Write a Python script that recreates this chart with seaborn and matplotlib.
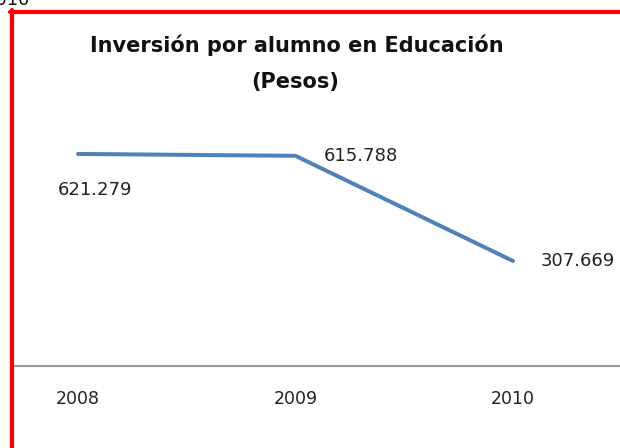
import pandas as pd
import matplotlib.pyplot as plt
import seaborn as sns
from matplotlib.lines import Line2D

# datos de la gráfica
anios = ["2008", "2009", "2010"]
inversion = [621.279, 615.788, 307.669]
etiquetas = ["621.279", "615.788", "307.669"]

df = pd.DataFrame({"anio": anios, "inversion": inversion})

sns.set_style("white")
plt.rcParams["font.family"] = ["DejaVu Sans"]

fig = plt.figure(figsize=(6.2, 4.48), dpi=100)
W, H = 620, 448
ax = fig.add_axes([12 / W, 82 / H, 608 / W, 356 / H])

sns.lineplot(data=df, x="anio", y="inversion", ax=ax, color="#4F81BD",
             linewidth=2.9, sort=False)

ax.set_xlim(-0.3034, 2.492)
ax.set_ylim(0, 1043)
ax.set_xticks(range(len(anios)))
ax.set_xticklabels(anios, fontsize=12.5, color="#222222")
ax.set_yticks([])
ax.set_xlabel("")
ax.set_ylabel("")
ax.tick_params(axis="x", length=0, pad=17)
for s in ["left", "right", "top"]:
    ax.spines[s].set_visible(False)
ax.spines["bottom"].set_color("#9a9a9a")
ax.spines["bottom"].set_linewidth(1.5)

# etiquetas de datos
offsets = [(12, -26), (47, 0), (47, 0)]
for i, (v, t) in enumerate(zip(inversion, etiquetas)):
    ax.annotate(t, (i, v), xytext=offsets[i], textcoords="offset points",
                ha="center", va="center", fontsize=13, color="#222222")

# título
fig.text(297 / W, 1 - 45 / H, "Inversión por alumno en Educación",
         ha="center", va="center", fontsize=15, fontweight="bold", color="#111111")
fig.text(295 / W, 1 - 82 / H, "(Pesos)",
         ha="center", va="center", fontsize=15, fontweight="bold", color="#111111")

# borde rojo del recorte
fig.add_artist(Line2D([12 / W, 12 / W], [0, 1 - 10 / H], color="red", linewidth=3,
                      transform=fig.transFigure))
fig.add_artist(Line2D([10 / W, 1], [1 - 12 / H, 1 - 12 / H], color="red", linewidth=3,
                      transform=fig.transFigure))

# texto cortado arriba a la izquierda
fig.text(30 / W, 1 - 5 / H, "2010", ha="right", va="baseline", fontsize=13,
         color="#111111")

fig.savefig("out.png", dpi=100)
